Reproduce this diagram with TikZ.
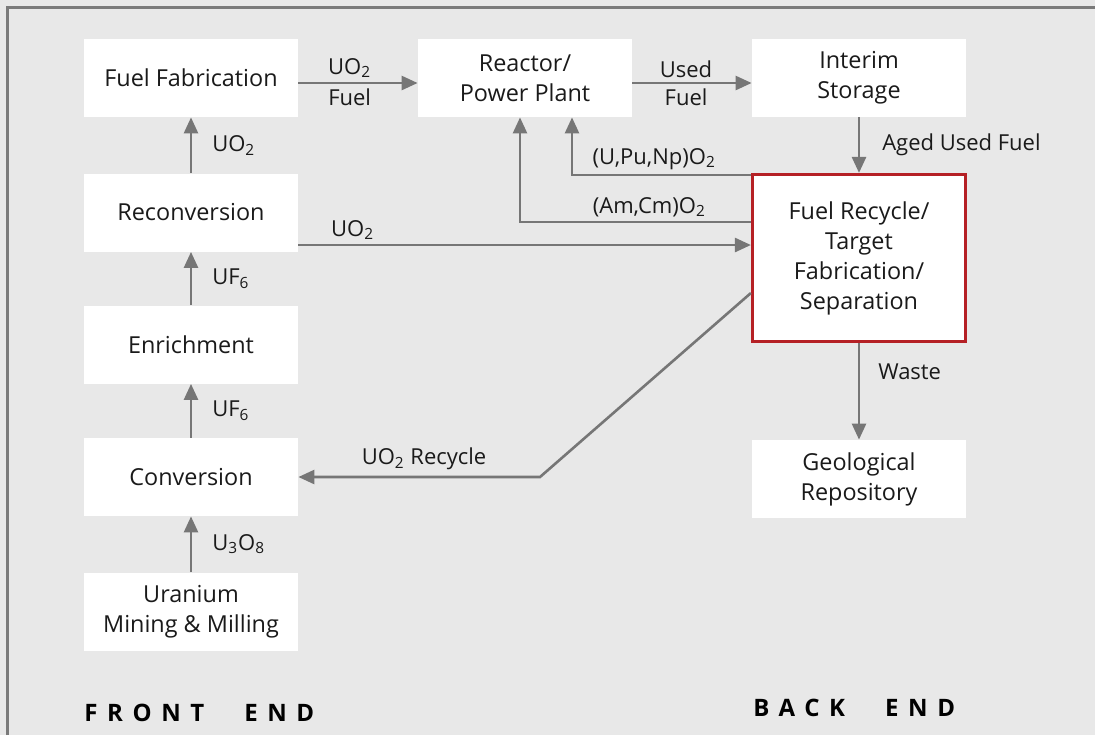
\documentclass[tikz,border=0pt]{standalone}
\usepackage{fontspec}
\setmainfont{Open Sans}
\newfontfamily\spacedfont[LetterSpace=40]{Open Sans}
\usepackage{tikz}
\usetikzlibrary{arrows.meta,positioning}

\definecolor{panelgray}{HTML}{E8E8E8}
\definecolor{framegray}{HTML}{7A7A7A}
\definecolor{flowgray}{HTML}{767676}
\definecolor{recyclered}{HTML}{B52025}
\definecolor{textdark}{HTML}{1A1A1A}

\tikzset{
  stage/.style={fill=white, minimum width=107pt, minimum height=39pt, inner sep=0pt,
    align=center, font=\fontsize{11.7}{15}\selectfont, text=textdark},
  flow/.style={draw=flowgray, line width=1.3pt, -{Triangle[length=8pt,width=7pt]}},
  lbl/.style={font=\fontsize{11}{13}\selectfont, text=textdark, inner sep=1pt},
  endlabel/.style={font=\spacedfont\bfseries\fontsize{12}{14}\selectfont, text=black,
    anchor=west, inner sep=0pt}
}

\begin{document}
\begin{tikzpicture}[x=0.5pt,y=-0.5pt]
    \useasboundingbox (0,0) rectangle (1095,735);
    \fill[panelgray] (0,0) rectangle (1095,735);
    \draw[framegray, line width=1.5pt] (7,735) -- (7,7) -- (1095,7);

    % front end
    \node[stage] (fab) at (191,78) {Fuel Fabrication};
    \node[stage] (recon) at (191,212.5) {Reconversion};
    \node[stage] (enrich) at (191,344.5) {Enrichment};
    \node[stage] (conv) at (191,477) {Conversion};
    \node[stage] (mine) at (191,611.5) {Uranium\\Mining \& Milling};

    % back end
    \node[stage] (reactor) at (525,78) {Reactor/\\Power Plant};
    \node[stage] (storage) at (859,78) {Interim\\Storage};
    \node[stage, draw=recyclered, line width=1.6pt, minimum width=106.5pt, minimum height=83.5pt]
        (recycle) at (859,258) {Fuel Recycle/\\Target\\Fabrication/\\Separation};
    \node[stage] (repo) at (859,479) {Geological\\Repository};

    \draw[flow] (mine) -- node[lbl, right=9pt] {U\textsubscript{3}O\textsubscript{8}} (conv);
    \draw[flow] (conv) -- node[lbl, right=9pt] {UF\textsubscript{6}} (enrich);
    \draw[flow] (enrich) -- node[lbl, right=9pt] {UF\textsubscript{6}} (recon);
    \draw[flow] (recon) -- node[lbl, right=9pt] {UO\textsubscript{2}} (fab);

    \draw[flow] ([yshift=-2.5pt]fab.east) -- node[lbl, pos=0.43, above=1pt] {UO\textsubscript{2}}
        node[lbl, pos=0.43, below=1pt] {Fuel} ([yshift=-2.5pt]reactor.west);
    \draw[flow] ([yshift=-2.5pt]reactor.east) -- node[lbl, pos=0.45, above=1pt] {Used}
        node[lbl, pos=0.45, below=1pt] {Fuel} ([yshift=-2.5pt]storage.west);
    \draw[flow] (storage) -- node[lbl, right=10pt] {Aged Used Fuel} (recycle);

    \draw[flow] ([yshift=-1pt]recycle.north west) -| node[lbl, pos=0.27, above=1pt] {(U,Pu,Np)O\textsubscript{2}}
        ([xshift=23.5pt]reactor.south);
    \draw[flow] ([yshift=-24.5pt]recycle.north west) -| node[lbl, pos=0.22, above=1pt] {(Am,Cm)O\textsubscript{2}}
        ([xshift=-2.5pt]reactor.south);
    \draw[flow] ([yshift=-16.25pt]recon.east) -- node[lbl, pos=0.12, above=1pt] {UO\textsubscript{2}}
        ([yshift=-16.25pt]recon.east -| recycle.west);

    \coordinate (kink) at (540,477);
    \draw[flow] ([yshift=-17.5pt]recycle.west) -- (kink)
        -- node[lbl, pos=0.48, above=2pt] {UO\textsubscript{2} Recycle} (kink -| conv.east);
    \draw[flow] (recycle) -- node[lbl, pos=0.3, right=8pt] {Waste} (repo);

    \node[endlabel] (front) at (84,713) {FRONT\hspace{20pt}END};
    \node[endlabel] (back) at (753,708) {BACK\hspace{20pt}END};
\end{tikzpicture}
\end{document}
